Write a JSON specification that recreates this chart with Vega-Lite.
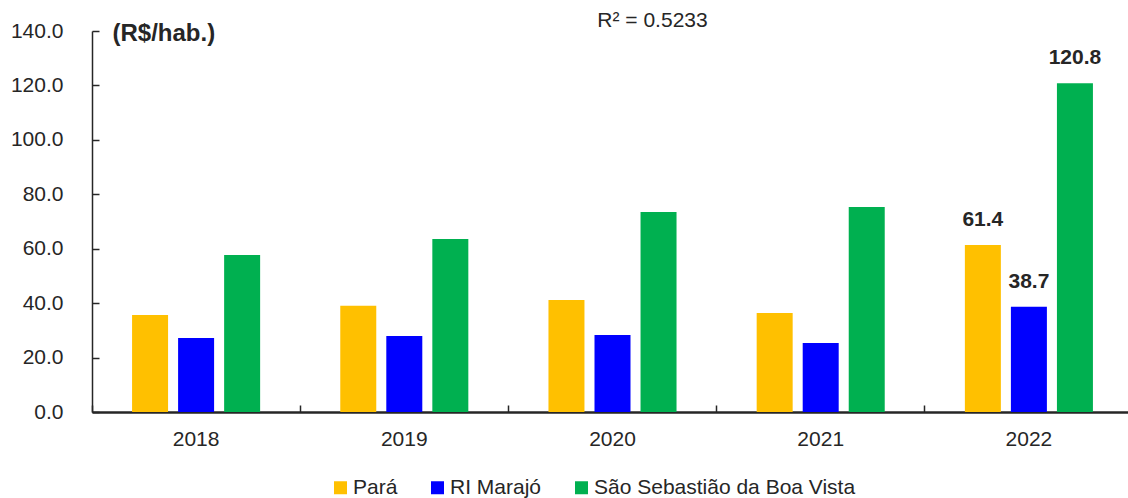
{
  "$schema": "https://vega.github.io/schema/vega-lite/v6.json",
  "autosize": "none",
  "width": 1041,
  "height": 381,
  "padding": {"left": 92, "top": 31, "right": 0, "bottom": 86},
  "background": "white",
  "config": {
    "font": "Liberation Sans",
    "view": {"stroke": null},
    "axis": {"grid": false, "domainColor": "#262626", "tickColor": "#262626", "labelColor": "#262626", "labelFont": "Liberation Sans", "labelFontSize": 21}
  },
  "title": {"text": "R² = 0.5233", "fontSize": 21, "fontWeight": "normal", "color": "#262626", "font": "Liberation Sans", "dx": 40, "offset": -11},
  "data": {"values": [
    {"year": "2018", "serie": "Pará", "v": 35.6},
    {"year": "2018", "serie": "RI Marajó", "v": 27.2},
    {"year": "2018", "serie": "São Sebastião da Boa Vista", "v": 57.7},
    {"year": "2019", "serie": "Pará", "v": 39.0},
    {"year": "2019", "serie": "RI Marajó", "v": 27.9},
    {"year": "2019", "serie": "São Sebastião da Boa Vista", "v": 63.6},
    {"year": "2020", "serie": "Pará", "v": 41.2},
    {"year": "2020", "serie": "RI Marajó", "v": 28.3},
    {"year": "2020", "serie": "São Sebastião da Boa Vista", "v": 73.5},
    {"year": "2021", "serie": "Pará", "v": 36.4},
    {"year": "2021", "serie": "RI Marajó", "v": 25.4},
    {"year": "2021", "serie": "São Sebastião da Boa Vista", "v": 75.3},
    {"year": "2022", "serie": "Pará", "v": 61.4},
    {"year": "2022", "serie": "RI Marajó", "v": 38.7},
    {"year": "2022", "serie": "São Sebastião da Boa Vista", "v": 120.8}
  ]},
  "encoding": {
    "x": {"field": "year", "type": "nominal", "scale": {"paddingInner": 0, "paddingOuter": 0},
      "axis": {"title": null, "labelAngle": 0, "bandPosition": 0, "tickSize": -7, "tickWidth": 1.5, "domainWidth": 2.5, "labelPadding": 23, "labelFontSize": 21}},
    "xOffset": {"field": "serie", "type": "nominal", "scale": {"paddingInner": 0.217, "paddingOuter": 0.87}},
    "y": {"field": "v", "type": "quantitative", "scale": {"domain": [0, 140]},
      "axis": {"values": [0, 20, 40, 60, 80, 100, 120, 140], "format": ".1f", "tickSize": -7, "tickWidth": 1.5, "domainWidth": 1.5, "labelPadding": 36, "labelFontSize": 21,
        "title": "(R$/hab.)", "titleAngle": 0, "titleX": 20, "titleY": 2, "titleAlign": "left", "titleBaseline": "middle", "titleFontSize": 24, "titleFontWeight": "bold", "titleColor": "#262626", "titleFont": "Liberation Sans"}}
  },
  "layer": [
    {
      "mark": {"type": "bar", "width": 36},
      "encoding": {
        "color": {"field": "serie", "type": "nominal",
          "scale": {"domain": ["Pará", "RI Marajó", "São Sebastião da Boa Vista"], "range": ["#FFC000", "#0000FF", "#00B050"]},
          "legend": {"orient": "none", "legendX": 238, "legendY": 446, "direction": "horizontal", "title": null, "symbolType": "square", "symbolSize": 169, "symbolStrokeWidth": 0, "labelFontSize": 21, "labelLimit": 0, "labelColor": "#262626", "labelFont": "Liberation Sans", "columnPadding": 29, "symbolOffset": 0, "labelOffset": 2}}
      }
    },
    {
      "transform": [{"filter": "datum.year === '2022'"}],
      "mark": {"type": "text", "dy": -25, "fontSize": 21, "fontWeight": "bold", "color": "#262626", "font": "Liberation Sans"},
      "encoding": {"text": {"field": "v", "type": "quantitative", "format": ".1f"}}
    }
  ]
}
